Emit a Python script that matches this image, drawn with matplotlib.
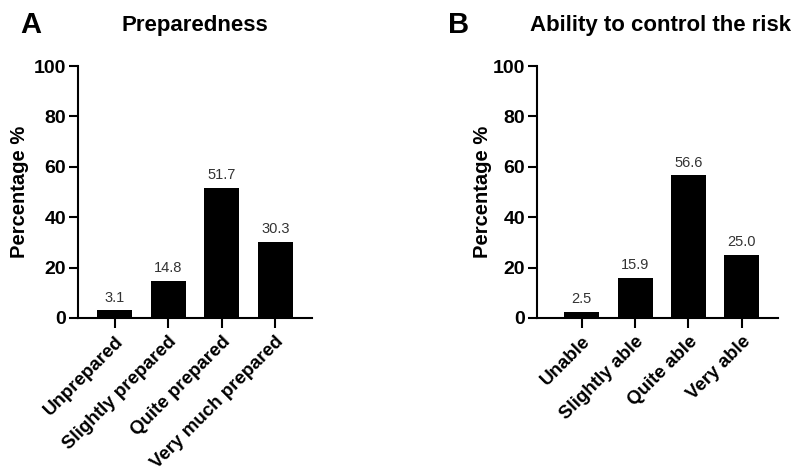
import matplotlib.pyplot as plt

plt.rcParams['font.family'] = ['Liberation Sans', 'DejaVu Sans']

prep_labels = ['Unprepared', 'Slightly prepared', 'Quite prepared', 'Very much prepared']
prep_values = [3.1, 14.8, 51.7, 30.3]

ctrl_labels = ['Unable', 'Slightly able', 'Quite able', 'Very able']
ctrl_values = [2.5, 15.9, 56.6, 25.0]

fig = plt.figure(figsize=(7.98, 4.74), dpi=100)
ax1 = fig.add_axes([78 / 798, 1 - 318 / 474, 234 / 798, 252 / 474])
ax2 = fig.add_axes([537 / 798, 1 - 318 / 474, 241 / 798, 252 / 474])


def draw(ax, labels, values, xlim, label_x):
    x = range(len(values))
    ax.bar(x, values, width=0.66, color='black')
    for i, v in zip(x, values):
        ax.annotate(f'{v:.1f}', (i, v), xytext=(0, 4), textcoords='offset points',
                    ha='center', va='bottom', fontsize=10.5, color='#333333')
    ax.set_xlim(*xlim)
    ax.set_ylim(0, 100)
    ax.set_yticks([0, 20, 40, 60, 80, 100])
    ax.set_xticks(list(x))
    ax.set_xticklabels(labels, rotation=45, ha='right', va='top',
                       rotation_mode='anchor', fontsize=13.5, fontweight='bold')
    for t in ax.get_yticklabels():
        t.set_fontsize(14)
        t.set_fontweight('bold')
    ax.tick_params(axis='x', length=7, width=1.5, pad=4)
    ax.tick_params(axis='y', length=6.5, width=1.5, pad=2)
    for s in ['top', 'right']:
        ax.spines[s].set_visible(False)
    for s in ['left', 'bottom']:
        ax.spines[s].set_linewidth(1.5)
    ax.set_ylabel('Percentage %', fontsize=14.5, fontweight='bold', va='center')
    ax.yaxis.set_label_coords(label_x, 0.5)


draw(ax1, prep_labels, prep_values, (-0.685, 3.685), (20 - 78) / 234)
draw(ax2, ctrl_labels, ctrl_values, (-0.84, 3.68), (482 - 537) / 241)

fig.text(195 / 798, 1 - 25 / 474, 'Preparedness', ha='center', va='center',
         fontsize=16, fontweight='bold')
fig.text(660 / 798, 1 - 25 / 474, 'Ability to control the risk', ha='center', va='center',
         fontsize=16, fontweight='bold')
fig.text(31 / 798, 1 - 25 / 474, 'A', ha='center', va='center', fontsize=21, fontweight='bold')
fig.text(459 / 798, 1 - 25 / 474, 'B', ha='center', va='center', fontsize=21, fontweight='bold')

fig.savefig('out.png', dpi=100)
